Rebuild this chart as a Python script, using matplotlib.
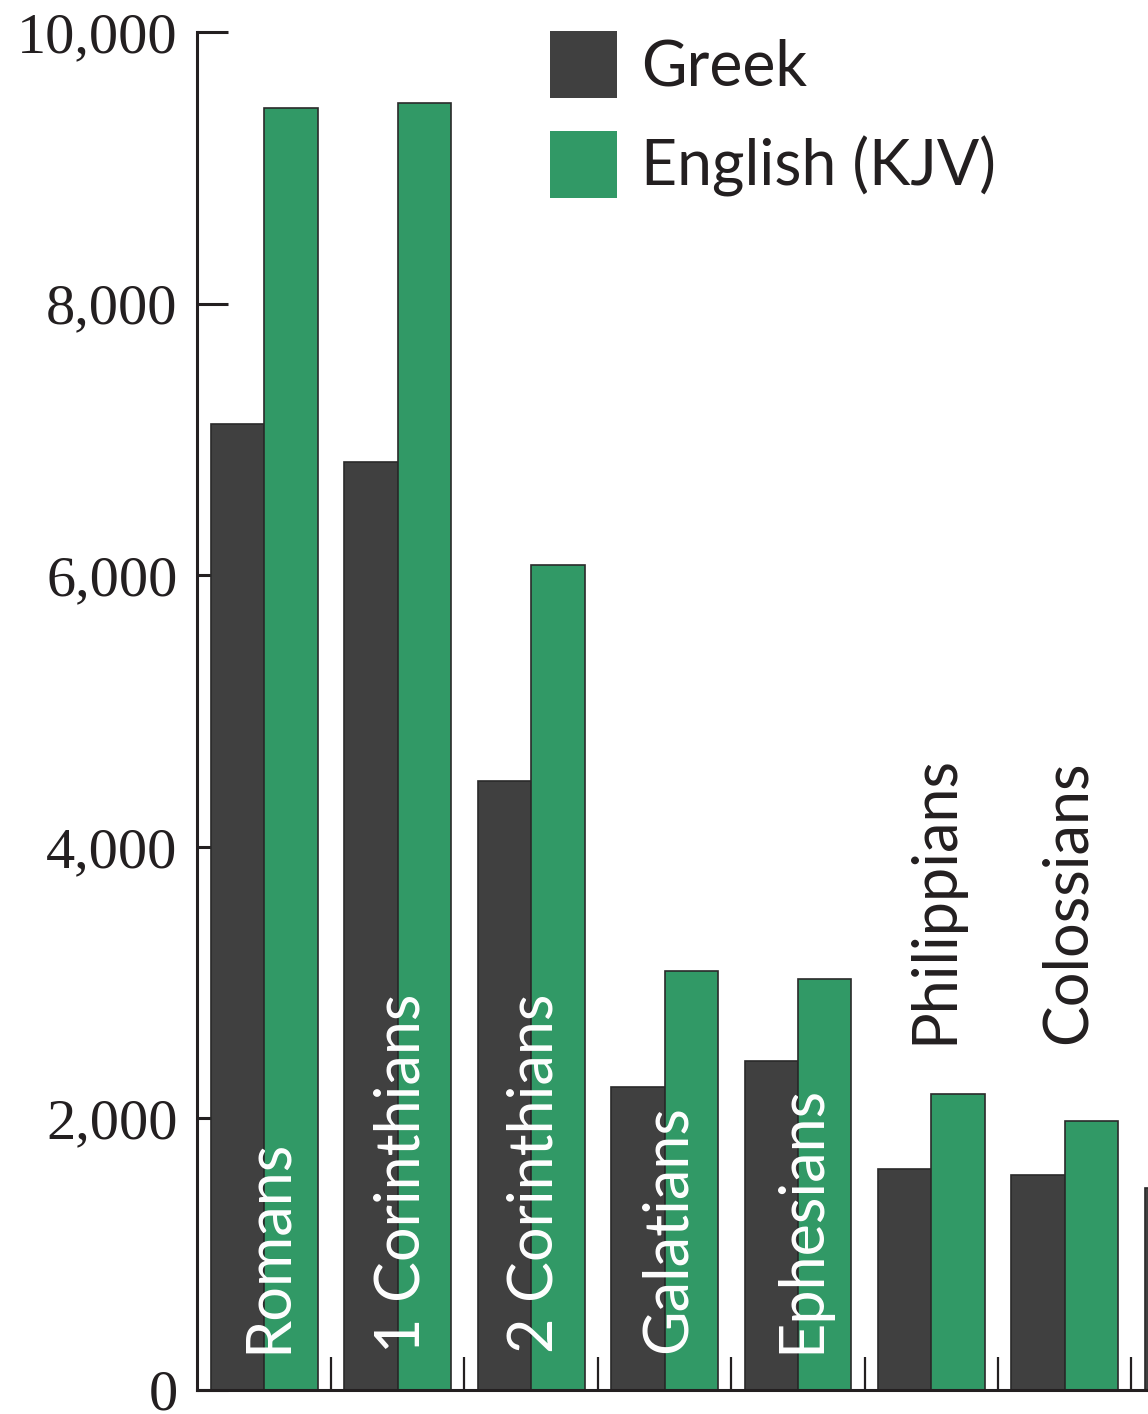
import numpy as np
import matplotlib.pyplot as plt
from matplotlib.patches import Rectangle
from matplotlib.legend_handler import HandlerPatch

books = ['Romans', '1 Corinthians', '2 Corinthians', 'Galatians', 'Ephesians',
         'Philippians', 'Colossians', '1 Thessalonians']
greek = [7115, 6835, 4485, 2230, 2425, 1627, 1583, 1487]
english = [9440, 9477, 6075, 3085, 3026, 2180, 1981, 1857]

c_greek = '#404040'
c_eng = '#319966'
ink = '#231f20'

fig = plt.figure(figsize=(11.48, 14.14), dpi=100)
ax = fig.add_axes([197 / 1148, 24 / 1414, 951 / 1148, 1358 / 1414])

x = np.arange(len(books))
w = 0.4
ax.bar(x - w / 2, greek, w, color=c_greek, edgecolor='#2a2a2a', linewidth=1.2,
       label='Greek', zorder=2)
ax.bar(x + w / 2, english, w, color=c_eng, edgecolor='#2a2a2a', linewidth=1.2,
       label='English (KJV)', zorder=2)

xmax = 6.624

# book names, inside the bars when there is room
for i, name in enumerate(books):
    if i + 0.165 > xmax:
        continue  # cut off by the page edge
    if greek[i] > 2000:
        ax.text(i + 0.16, 270, name, rotation=90, rotation_mode='anchor',
                ha='left', va='baseline', color='white', fontsize=44,
                family='Lato', zorder=3)
    else:
        ax.text(i + 0.16, 2550, name, rotation=90, rotation_mode='anchor',
                ha='left', va='baseline', color=ink, fontsize=44,
                family='Lato', zorder=3)

ax.set_yticks(np.arange(0, 10001, 2000))
ax.set_yticklabels(['{:,}'.format(v) for v in range(0, 10001, 2000)],
                   family='Liberation Serif', fontsize=42, color=ink)
ax.tick_params(axis='y', direction='in', length=22, width=2.2, color=ink, pad=14)

ax.set_xticks(x + 0.5)
ax.set_xticklabels([])
ax.tick_params(axis='x', direction='in', length=24, width=1.6, color=ink)

ax.set_xlim(-0.505, xmax)
ax.set_ylim(0, 10000)

for s in ['top', 'right']:
    ax.spines[s].set_visible(False)
for s in ['left', 'bottom']:
    ax.spines[s].set_linewidth(2.2)
    ax.spines[s].set_color(ink)


# legend squares sit on the text baseline
def square(legend, orig_handle, xdescent, ydescent, width, height, fontsize):
    return Rectangle((-xdescent, 0), width, height)


leg = ax.legend(loc='upper left', bbox_to_anchor=(550 / 1148, 1 - 31 / 1414),
                bbox_transform=fig.transFigure, frameon=False, borderpad=0,
                borderaxespad=0, handlelength=1.07, handleheight=1.27,
                handletextpad=0.38, labelspacing=0.535,
                handler_map={Rectangle: HandlerPatch(patch_func=square)},
                prop={'family': 'Lato', 'size': 45})
for t in leg.get_texts():
    t.set_color(ink)
for h in leg.legend_handles:
    h.set_edgecolor('none')

fig.savefig('out.png', dpi=100)
